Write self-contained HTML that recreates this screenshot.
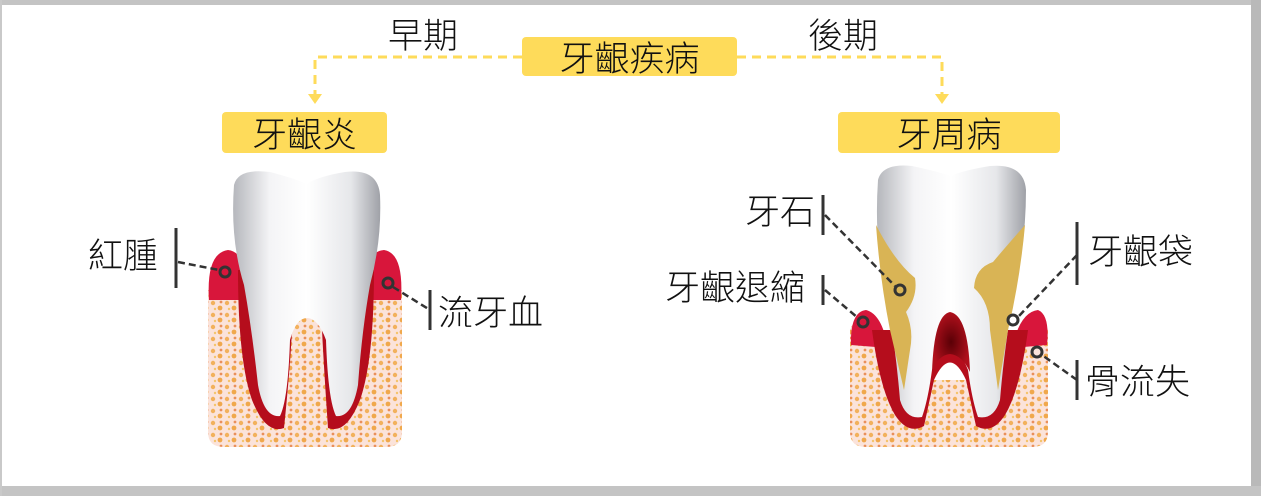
<!DOCTYPE html>
<html><head><meta charset="utf-8"><style>
html,body{margin:0;padding:0;background:#fff;}
body{width:1261px;height:496px;position:relative;overflow:hidden;font-family:"Liberation Sans","Noto Sans CJK TC",sans-serif;}
.t{position:absolute;color:#111;font-size:35px;line-height:1;white-space:nowrap;font-weight:300;}
.box{position:absolute;background:#fedb5a;border-radius:4px;display:flex;align-items:center;justify-content:center;font-size:35px;color:#111;font-weight:300;}
</style></head><body>
<div style="position:absolute;left:0;top:0;width:1261px;height:5px;background:#c4c4c4"></div>
<div style="position:absolute;right:0;top:0;width:10px;height:496px;background:#b9b9b9"></div>
<div style="position:absolute;left:0;bottom:0;width:1261px;height:10px;background:#c4c4c4"></div>
<div style="position:absolute;left:0;top:0;width:2px;height:496px;background:#c9c9c9"></div>
<svg width="1261" height="496" style="position:absolute;left:0;top:0">
<defs>
<linearGradient id="tw" x1="0" x2="1"><stop offset="0" stop-color="#b5b7bc"/><stop offset=".25" stop-color="#f4f4f6"/><stop offset=".5" stop-color="#fff"/><stop offset=".8" stop-color="#e6e7ea"/><stop offset="1" stop-color="#9fa1a7"/></linearGradient>
<pattern id="bn" width="14" height="12" patternUnits="userSpaceOnUse"><rect width="14" height="12" fill="#fbe3da"/><circle cx="3" cy="3" r="2.2" fill="#f2b15c"/><circle cx="10" cy="8" r="2.4" fill="#f0a84c"/><circle cx="11" cy="2" r="1.4" fill="#ea8f5a"/><circle cx="5" cy="9" r="1.2" fill="#f5c46a"/></pattern>
<radialGradient id="pulp"><stop offset="0" stop-color="#5a0006"/><stop offset="1" stop-color="#b0101c"/></radialGradient>
</defs>
<g stroke="#fedb5a" stroke-width="3" stroke-dasharray="9,6" fill="none">
<path d="M522 57 H315 V95"/><path d="M737 57 H942 V95"/></g>
<path d="M308 94 L322 94 L315 104Z" fill="#fedb5a"/><path d="M935 94 L949 94 L942 104Z" fill="#fedb5a"/>
<!-- left tooth -->
<path d="M208 290 L208 432 Q208 447 224 447 L386 447 Q402 447 402 432 L402 290Z" fill="url(#bn)"/>
<path d="M209 300 Q206 253 228 250 Q248 252 250 300Z M360 300 Q362 252 384 250 Q404 253 401 300Z" fill="#d8163b"/>
<path d="M238 270 Q238 360 252 400 Q266 435 284 428 Q290 370 292 330 Q307 300 322 330 Q324 370 328 428 Q346 435 360 400 Q374 360 374 270Z" fill="#b50d1c"/>
<path d="M234 185 Q238 168 270 172 Q300 180 306 184 Q320 176 345 172 Q378 168 380 195 Q382 240 370 285 Q362 330 358 385 Q352 418 336 416 Q328 400 326 340 Q318 318 307 318 Q296 318 290 340 Q288 400 280 416 Q264 418 258 385 Q252 330 244 285 Q230 240 234 185Z" fill="url(#tw)"/>
<!-- right tooth -->
<path d="M850 330 L850 432 Q850 447 866 447 L1032 447 Q1048 447 1048 432 L1048 330 Q1040 312 1020 330 L1005 380 L895 380 L875 320 Q858 310 850 330Z" fill="url(#bn)"/>
<path d="M851 345 Q850 312 866 310 Q882 314 888 348Z M1012 348 Q1020 312 1038 310 Q1050 315 1047 345Z" fill="#d8163b"/>
<path d="M872 330 Q880 390 895 415 Q908 435 924 426 L934 380 Q950 345 966 380 L976 426 Q992 435 1005 415 Q1020 390 1028 330Z" fill="#b50d1c"/>
<path d="M878 180 Q882 163 912 166 Q940 172 950 176 Q965 170 990 166 Q1024 163 1026 190 Q1026 240 1015 290 Q1005 340 1000 400 Q994 420 978 417 Q972 400 968 370 Q960 350 950 350 Q938 350 932 370 Q928 400 922 417 Q906 420 900 400 Q895 340 885 290 Q874 240 878 180Z" fill="url(#tw)"/>
<path d="M876 225 Q895 262 915 278 Q918 296 906 312 Q914 330 910 350 L904 390 L890 330 Q880 280 876 225Z" fill="#d9b455"/>
<path d="M1025 225 Q1003 250 993 262 Q975 268 974 288 Q990 302 990 330 L998 390 L1008 330 Q1020 280 1025 225Z" fill="#d9b455"/>
<path d="M932 372 Q934 315 950 312 Q968 315 970 372 Q962 355 950 354 Q938 355 932 372Z" fill="url(#pulp)"/>
<!-- connectors -->
<g stroke="#333" stroke-width="3" fill="none">
<path d="M176 228 V288 M430 290 V330 M823 195 V235 M823 275 V305 M1077 222 V285 M1077 360 V400"/>
<g stroke-dasharray="7,4" stroke-width="2.5">
<path d="M178 262 L219 270 M393 287 L430 310 M825 215 L895 286 M825 290 L858 318 M1077 255 L1018 317 M1077 380 L1042 355"/></g>
<circle cx="225" cy="272" r="5" fill="#d8163b"/><circle cx="388" cy="283" r="5" fill="#d8163b"/>
<circle cx="900" cy="290" r="5" fill="#d9b455"/><circle cx="863" cy="322" r="5" fill="#d8163b"/>
<circle cx="1013" cy="320" r="5" fill="#fff"/><circle cx="1037" cy="352" r="5" fill="#fbe3da"/>
</g>
</svg>
<div class="box" style="left:522px;top:37px;width:215px;height:39px">牙齦疾病</div>
<div class="box" style="left:222px;top:112px;width:165px;height:41px">牙齦炎</div>
<div class="box" style="left:838px;top:112px;width:222px;height:41px">牙周病</div>
<div class="t" style="left:388px;top:19px">早期</div>
<div class="t" style="left:808px;top:19px">後期</div>
<div class="t" style="left:88px;top:239px">紅腫</div>
<div class="t" style="left:438px;top:296px">流牙血</div>
<div class="t" style="left:745px;top:195px">牙石</div>
<div class="t" style="left:665px;top:271px">牙齦退縮</div>
<div class="t" style="left:1088px;top:235px">牙齦袋</div>
<div class="t" style="left:1085px;top:365px">骨流失</div>
</body></html>
